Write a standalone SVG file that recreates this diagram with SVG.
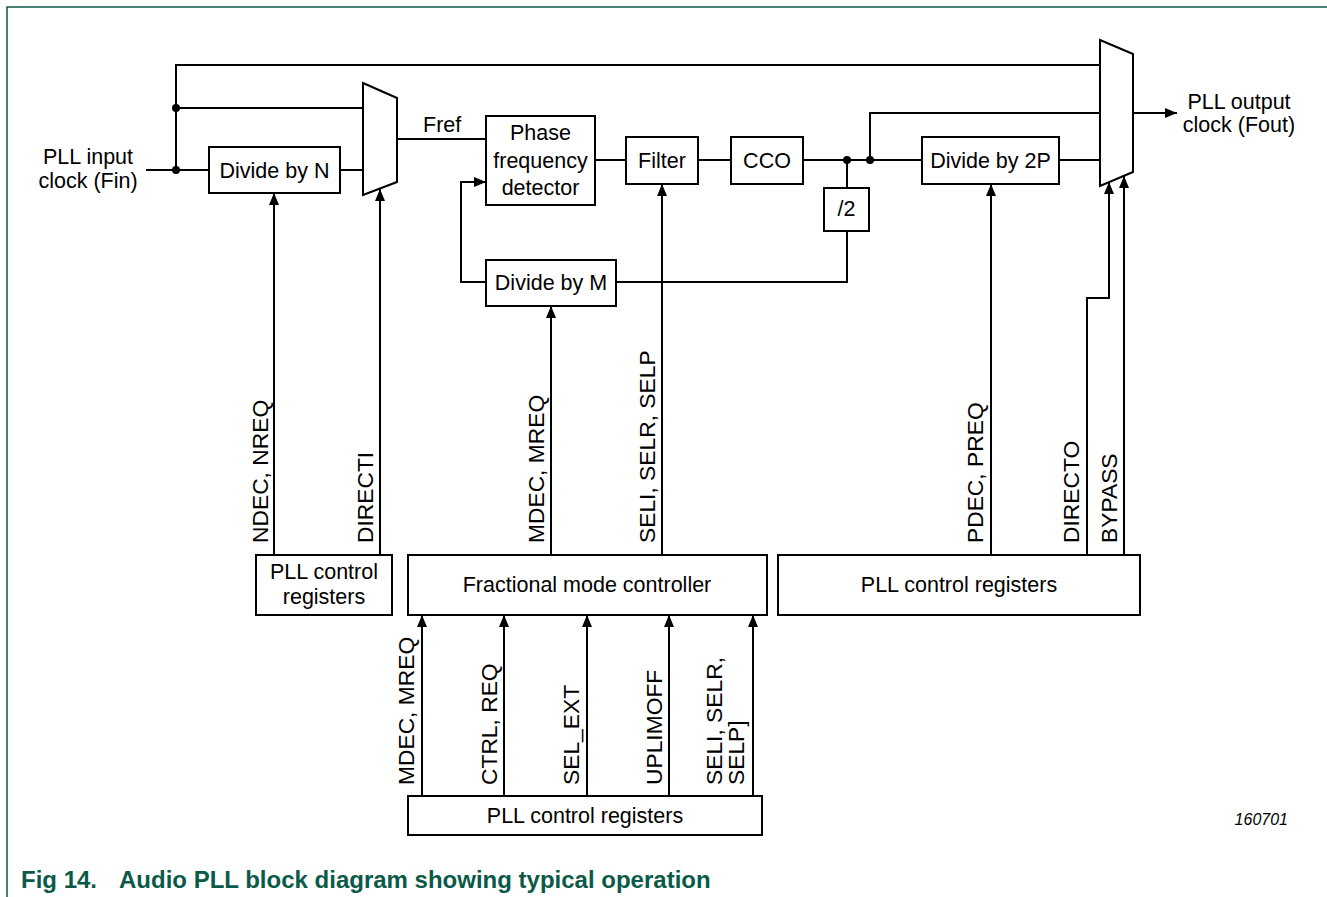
<svg xmlns="http://www.w3.org/2000/svg" width="1327" height="897" viewBox="0 0 1327 897">
<defs>
<style>
.box{fill:#fff;stroke:#000;stroke-width:2}
.w{fill:none;stroke:#000;stroke-width:2}
.t{font-family:"Liberation Sans",Arial,sans-serif;font-size:21.5px;fill:#000}
.c{text-anchor:middle}
.v{font-family:"Liberation Sans",Arial,sans-serif;font-size:22.8px;fill:#000}
.frame{fill:none;stroke:#0b5a48;stroke-width:1.5}
</style>
<marker id="ah" viewBox="0 0 12 10" refX="12" refY="5" markerWidth="12" markerHeight="10" markerUnits="userSpaceOnUse" orient="auto">
<path d="M0,0 L12,5 L0,10 z" fill="#000"/>
</marker>
</defs>
<rect x="0" y="0" width="1327" height="897" fill="#fff"/>
<path class="frame" d="M7,897 L7,7 L1327,7"/>

<g id="connectors">
<path class="w" d="M146,170 L209,170"/>
<path class="w" d="M176,170 L176,65 L1100,65"/>
<path class="w" d="M176,108 L363,108"/>
<path class="w" d="M340,170 L363,170"/>
<path class="w" d="M397,139 L486,139"/>
<path class="w" d="M595,160 L626,160"/>
<path class="w" d="M698,160 L731,160"/>
<path class="w" d="M803,160 L922,160"/>
<path class="w" d="M847,160 L847,188"/>
<path class="w" d="M847,231 L847,282 L616,282"/>
<path class="w" d="M486,282 L461,282 L461,182 L486,182" marker-end="url(#ah)"/>
<path class="w" d="M870,160 L870,113 L1100,113"/>
<path class="w" d="M1059,160 L1100,160"/>
<path class="w" d="M1133,113 L1177,113" marker-end="url(#ah)"/>
<path class="w" d="M274,555 L274,193" marker-end="url(#ah)"/>
<path class="w" d="M380,555 L380,189" marker-end="url(#ah)"/>
<path class="w" d="M551,555 L551,306" marker-end="url(#ah)"/>
<path class="w" d="M662,555 L662,184" marker-end="url(#ah)"/>
<path class="w" d="M991,555 L991,184" marker-end="url(#ah)"/>
<path class="w" d="M1087,555 L1087,298 L1109,298 L1109,182" marker-end="url(#ah)"/>
<path class="w" d="M1124,555 L1124,176" marker-end="url(#ah)"/>
<path class="w" d="M422,796 L422,615" marker-end="url(#ah)"/>
<path class="w" d="M504,796 L504,615" marker-end="url(#ah)"/>
<path class="w" d="M587,796 L587,615" marker-end="url(#ah)"/>
<path class="w" d="M669,796 L669,615" marker-end="url(#ah)"/>
<path class="w" d="M753,796 L753,615" marker-end="url(#ah)"/>
<circle cx="176" cy="170" r="4" fill="#000"/>
<circle cx="176" cy="108" r="4" fill="#000"/>
<circle cx="847" cy="160" r="4" fill="#000"/>
<circle cx="870" cy="160" r="4" fill="#000"/>
</g>

<g id="input-label">
<text class="t c" x="88" y="164">PLL input</text>
<text class="t c" x="88" y="188">clock (Fin)</text>
</g>
<g id="fref-label"><text class="t" x="423" y="132">Fref</text></g>
<g id="output-label">
<text class="t c" x="1239" y="109">PLL output</text>
<text class="t c" x="1239" y="132">clock (Fout)</text>
</g>

<g id="div-n"><rect class="box" x="209" y="147" width="131" height="46"/><text class="t c" x="274.5" y="178">Divide by N</text></g>
<g id="mux1"><polygon class="box" points="363,83 397,98 397,182 363,195"/></g>
<g id="pfd"><rect class="box" x="486" y="116" width="109" height="89"/>
<text class="t c" x="540.5" y="140">Phase</text>
<text class="t c" x="540.5" y="168">frequency</text>
<text class="t c" x="540.5" y="195">detector</text></g>
<g id="filter"><rect class="box" x="626" y="137" width="72" height="47"/><text class="t c" x="662" y="168">Filter</text></g>
<g id="cco"><rect class="box" x="731" y="137" width="72" height="47"/><text class="t c" x="767" y="168">CCO</text></g>
<g id="div2"><rect class="box" x="824" y="188" width="45" height="43"/><text class="t c" x="846.5" y="216">/2</text></g>
<g id="div-m"><rect class="box" x="486" y="260" width="130" height="46"/><text class="t c" x="551" y="290">Divide by M</text></g>
<g id="div-2p"><rect class="box" x="922" y="137" width="137" height="47"/><text class="t c" x="990.5" y="168">Divide by 2P</text></g>
<g id="mux2"><polygon class="box" points="1100,40 1133,54 1133,172 1100,186"/></g>

<g id="regs-left"><rect class="box" x="256" y="555" width="136" height="60"/>
<text class="t c" x="324" y="579">PLL control</text>
<text class="t c" x="324" y="604">registers</text></g>
<g id="frac-ctrl"><rect class="box" x="408" y="555" width="359" height="60"/><text class="t c" x="587" y="592">Fractional mode controller</text></g>
<g id="regs-right"><rect class="box" x="778" y="555" width="362" height="60"/><text class="t c" x="959" y="592">PLL control registers</text></g>
<g id="regs-bottom"><rect class="box" x="408" y="796" width="354" height="39"/><text class="t c" x="585" y="823">PLL control registers</text></g>

<g id="signal-labels">
<text class="v" transform="translate(268,543) rotate(-90)">NDEC, NREQ</text>
<text class="v" transform="translate(373,543) rotate(-90)">DIRECTI</text>
<text class="v" transform="translate(544,543) rotate(-90)">MDEC, MREQ</text>
<text class="v" transform="translate(655,543) rotate(-90)">SELI, SELR, SELP</text>
<text class="v" transform="translate(983,543) rotate(-90)">PDEC, PREQ</text>
<text class="v" transform="translate(1079,543) rotate(-90)">DIRECTO</text>
<text class="v" transform="translate(1117,543) rotate(-90)">BYPASS</text>
<text class="v" transform="translate(414,785) rotate(-90)">MDEC, MREQ</text>
<text class="v" transform="translate(497,785) rotate(-90)">CTRL, REQ</text>
<text class="v" transform="translate(579,785) rotate(-90)">SEL_EXT</text>
<text class="v" transform="translate(662,785) rotate(-90)">UPLIMOFF</text>
<text class="v" transform="translate(722,785) rotate(-90)"><tspan x="0" y="0">SELI, SELR,</tspan><tspan x="0" y="22">SELP]</tspan></text>
</g>

<g id="fig-id"><text x="1288" y="825" text-anchor="end" style="font-family:'Liberation Sans',Arial,sans-serif;font-size:16px;font-style:italic;fill:#000">160701</text></g>
<g id="caption" style="font-family:'Liberation Sans',Arial,sans-serif;font-size:24px;font-weight:bold;fill:#0b5a48">
<text x="21" y="888">Fig 14.</text>
<text x="119" y="888">Audio PLL block diagram showing typical operation</text>
</g>
</svg>
